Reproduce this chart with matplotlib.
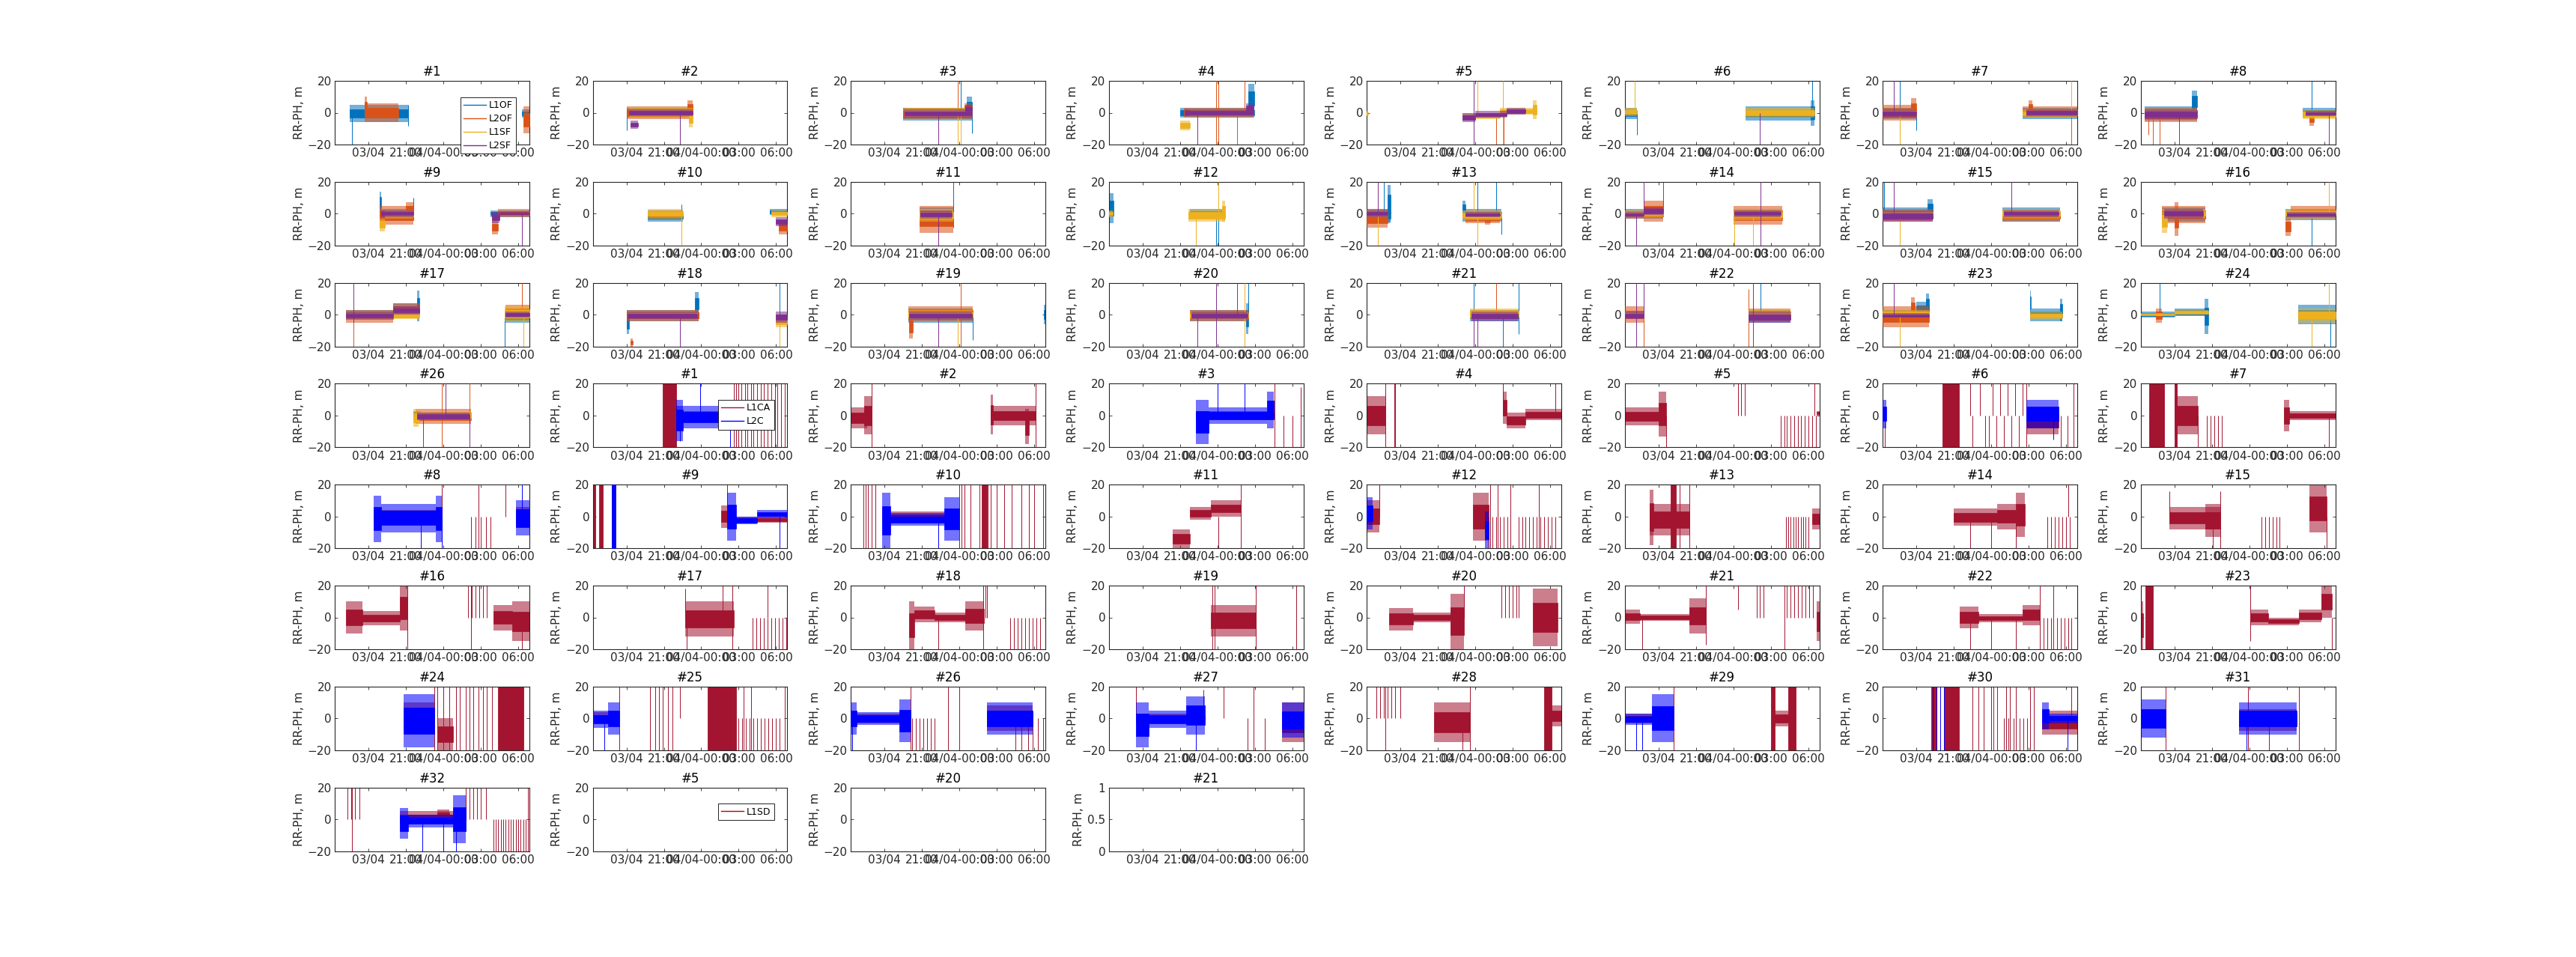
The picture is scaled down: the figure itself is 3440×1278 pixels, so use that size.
import matplotlib
matplotlib.use('Agg')
import matplotlib.pyplot as plt
from matplotlib.lines import Line2D

# panel titles, drawn row by row
gal_prns = list(range(1, 25)) + [26]
gps_prns = list(range(1, 33))
sd_prns = [5, 20]
empty_prns = [21]

gal_signals = ['L1OF', 'L2OF', 'L1SF', 'L2SF']
gps_signals = ['L1CA', 'L2C']
sd_signals = ['L1SD']

# hours since 03/04 00:00
tick_hours = [18, 21, 24, 27, 30]
tick_labels = ['03/04', '21:00', '04/04-00:00', '03:00', '06:00']

# noise bands: (prn, signal, t0, t1, low, high)
gal_bands = [
    (1, 0, 16.5, 21.2, -6, 5), (1, 1, 17.7, 20.4, -6, 6), (1, 1, 17.7, 17.9, -2, 10),
    (1, 0, 30.3, 30.9, -3, 2), (1, 1, 30.4, 30.9, -13, 4),
    (2, 0, 18.0, 23.3, -3, 3), (2, 1, 18.0, 23.3, -4, 4), (2, 1, 22.9, 23.3, -2, 8),
    (2, 2, 18.2, 23.3, -3, 3), (2, 2, 23.0, 23.3, -9, 2), (2, 3, 18.2, 23.3, -2, 2),
    (2, 3, 18.3, 18.9, -10, -5),
    (3, 0, 19.5, 25.0, -5, 3), (3, 0, 24.6, 25.0, -2, 10), (3, 1, 19.5, 25.0, -4, 3),
    (3, 1, 24.4, 25.0, 0, 6), (3, 2, 19.6, 25.0, -3, 3), (3, 3, 19.6, 25.0, -3, 2),
    (3, 3, 24.5, 25.0, 0, 5),
    (4, 0, 21.05, 26.95, -3, 3), (4, 0, 26.5, 26.95, 0, 18), (4, 1, 21.3, 26.9, -3, 3),
    (4, 2, 21.05, 21.8, -11, -5), (4, 2, 21.8, 26.9, -2, 2), (4, 3, 21.4, 26.9, -2, 2),
    (4, 3, 26.3, 26.9, 0, 6),
    (5, 3, 23.0, 24.0, -6, 0), (5, 3, 24.0, 26.5, -3, 1), (5, 3, 26.5, 28.0, -1, 3),
    (5, 2, 23.0, 26.0, -4, 0), (5, 2, 26.0, 28.9, -1, 3), (5, 2, 28.6, 28.9, -4, 8),
    (5, 2, 15.3, 15.4, -2, 1),
    (6, 0, 15.3, 16.3, -4, 3), (6, 2, 15.3, 16.3, -2, 3), (6, 0, 25.0, 30.5, -5, 4),
    (6, 2, 25.0, 30.5, -3, 3), (6, 0, 30.2, 30.5, -8, 8),
    (7, 1, 15.3, 18.0, -5, 5), (7, 1, 17.6, 18.0, -3, 9), (7, 0, 15.3, 18.0, -4, 3),
    (7, 2, 15.3, 18.0, -2, 2), (7, 3, 15.3, 18.0, -3, 2), (7, 0, 26.5, 30.9, -4, 3),
    (7, 1, 26.5, 30.9, -3, 4), (7, 1, 27.0, 27.3, -2, 8), (7, 2, 26.5, 30.9, -3, 2),
    (7, 3, 26.8, 30.9, -2, 2),
    (8, 0, 15.6, 19.8, -5, 4), (8, 0, 19.4, 19.8, 0, 14), (8, 1, 15.6, 19.8, -6, 3),
    (8, 2, 15.6, 19.8, -3, 2), (8, 3, 15.6, 19.8, -4, 2), (8, 0, 28.3, 30.9, -3, 3),
    (8, 2, 28.3, 30.9, -4, 2), (8, 1, 28.8, 29.2, -8, 1), (8, 3, 28.5, 30.9, -2, 1),
    (9, 0, 18.9, 21.6, -2, 3), (9, 0, 18.9, 19.0, 0, 14), (9, 1, 18.9, 21.6, -7, 5),
    (9, 1, 21.0, 21.6, -2, 7), (9, 2, 18.9, 19.3, -11, -3), (9, 2, 19.3, 21.6, -3, 2),
    (9, 3, 19.0, 21.6, -2, 2), (9, 0, 27.8, 30.9, -2, 2), (9, 1, 27.9, 28.4, -13, -4),
    (9, 1, 28.4, 30.9, -2, 3), (9, 3, 27.9, 28.5, -6, 1), (9, 3, 28.5, 30.9, -1, 1),
    (10, 0, 19.7, 22.5, -5, 2), (10, 2, 19.7, 22.5, -3, 3), (10, 1, 19.8, 22.4, -3, 2),
    (10, 0, 29.5, 30.9, -1, 3), (10, 2, 29.6, 30.9, -2, 2), (10, 3, 30.0, 30.9, -8, -2),
    (10, 1, 30.2, 30.9, -13, -4),
    (11, 0, 20.8, 23.5, -5, 4), (11, 1, 20.8, 23.5, -12, 5), (11, 2, 20.8, 23.5, -5, 3),
    (11, 3, 20.9, 23.4, -3, 2),
    (12, 0, 15.3, 15.7, -6, 13), (12, 2, 15.3, 15.6, -2, 2), (12, 2, 21.7, 24.6, -5, 3),
    (12, 0, 21.8, 24.5, -3, 3), (12, 2, 24.4, 24.6, -5, 8),
    (13, 0, 15.3, 17.2, -5, 3), (13, 0, 17.0, 17.2, -6, 18), (13, 1, 15.3, 17.0, -9, 3),
    (13, 2, 15.3, 17.0, -2, 2), (13, 3, 15.3, 17.0, -2, 2), (13, 0, 23.0, 26.1, -5, 3),
    (13, 0, 23.0, 23.2, 0, 8), (13, 2, 23.0, 26.1, -4, 2), (13, 1, 23.2, 26.0, -6, 2),
    (13, 1, 24.8, 25.2, -7, 0), (13, 3, 23.2, 26.0, -2, 1),
    (14, 0, 15.3, 18.4, -3, 3), (14, 1, 15.3, 16.8, -3, 2), (14, 1, 16.8, 18.4, -5, 8),
    (14, 3, 15.3, 16.8, -2, 1), (14, 3, 16.8, 18.4, -1, 4), (14, 2, 15.3, 18.4, -2, 2),
    (14, 1, 24.0, 27.9, -7, 5), (14, 0, 24.0, 27.9, -3, 3), (14, 2, 24.0, 27.9, -4, 3),
    (14, 3, 24.1, 27.8, -2, 2),
    (15, 0, 15.3, 19.3, -4, 4), (15, 0, 18.9, 19.3, -2, 9), (15, 1, 15.3, 19.3, -5, 3),
    (15, 3, 15.3, 19.3, -5, 2), (15, 2, 15.3, 19.3, -2, 2), (15, 0, 24.9, 29.5, -5, 4),
    (15, 1, 24.9, 29.5, -5, 3), (15, 2, 24.9, 29.5, -3, 3), (15, 3, 25.0, 29.4, -2, 2),
    (16, 0, 17.0, 20.5, -5, 4), (16, 1, 17.0, 20.5, -6, 5), (16, 1, 18.0, 18.3, -14, 7),
    (16, 2, 17.0, 17.4, -12, 3), (16, 2, 17.4, 20.5, -3, 3), (16, 3, 17.2, 20.3, -3, 3),
    (16, 1, 26.9, 27.3, -14, -2), (16, 1, 27.3, 30.9, -3, 5), (16, 0, 26.9, 30.9, -4, 3),
    (16, 2, 26.9, 30.9, -3, 3), (16, 3, 27.0, 30.9, -2, 1),
    (17, 0, 16.2, 20.0, -3, 3), (17, 0, 20.0, 22.1, -2, 7), (17, 0, 21.9, 22.1, -4, 15),
    (17, 1, 16.2, 20.0, -5, 3), (17, 1, 20.0, 22.1, -1, 7), (17, 3, 16.2, 20.0, -3, 2),
    (17, 3, 20.0, 22.1, 0, 5), (17, 2, 16.2, 22.1, -3, 2), (17, 0, 28.9, 30.9, -5, 2),
    (17, 2, 28.9, 30.9, -4, 5), (17, 1, 29.0, 30.9, -3, 6), (17, 3, 29.0, 30.9, -2, 2),
    (18, 0, 18.0, 23.8, -4, 3), (18, 0, 18.0, 18.2, -12, 0), (18, 0, 23.5, 23.8, 0, 14),
    (18, 1, 18.0, 23.8, -4, 3), (18, 3, 18.1, 23.7, -3, 2), (18, 2, 18.1, 23.7, -2, 2),
    (18, 1, 18.3, 18.5, -20, -15), (18, 3, 30.0, 30.9, -5, 2), (18, 2, 30.0, 30.9, -8, 0),
    (19, 0, 19.9, 25.1, -5, 4), (19, 1, 19.9, 25.1, -4, 5), (19, 1, 20.0, 20.3, -15, 0),
    (19, 2, 19.9, 25.1, -3, 3), (19, 3, 20.0, 25.0, -3, 2), (19, 0, 30.8, 30.9, -6, 6),
    (20, 0, 21.8, 26.5, -4, 3), (20, 1, 21.8, 26.5, -4, 3), (20, 3, 21.9, 26.4, -3, 2),
    (20, 2, 21.8, 26.5, -3, 2), (20, 0, 26.3, 26.5, -12, 7),
    (21, 0, 23.6, 27.5, -4, 3), (21, 2, 23.6, 27.5, -3, 4), (21, 1, 23.7, 27.4, -3, 3),
    (21, 3, 23.7, 27.4, -4, 2),
    (22, 3, 15.3, 16.8, -3, 2), (22, 1, 15.3, 16.8, -5, 5), (22, 2, 15.3, 16.8, -2, 2),
    (22, 3, 25.2, 28.6, -5, 2), (22, 2, 25.2, 28.6, -3, 3), (22, 1, 25.2, 28.6, -4, 4),
    (22, 0, 25.3, 28.6, -5, 3),
    (23, 1, 15.3, 19.0, -8, 5), (23, 1, 17.6, 17.9, -3, 11), (23, 0, 15.3, 18.0, -3, 3),
    (23, 0, 18.0, 19.0, -2, 8), (23, 0, 18.8, 19.0, 0, 13), (23, 2, 15.3, 19.0, -2, 3),
    (23, 3, 15.3, 19.0, -2, 1), (23, 0, 27.1, 29.7, -4, 4), (23, 0, 27.1, 27.2, 0, 15),
    (23, 2, 27.1, 29.7, -3, 2), (23, 0, 29.5, 29.7, -4, 10),
    (24, 0, 15.3, 18.0, -2, 2), (24, 0, 18.0, 20.7, -1, 4), (24, 0, 20.4, 20.7, -12, 10),
    (24, 2, 15.3, 18.0, -1, 1), (24, 2, 18.0, 20.7, 0, 3), (24, 1, 16.5, 17.0, -5, 4),
    (24, 0, 27.9, 30.9, -6, 6), (24, 2, 27.9, 30.9, -5, 4),
    (26, 0, 21.6, 22.2, -2, 3), (26, 2, 21.6, 22.0, -7, 4), (26, 2, 22.0, 26.2, -3, 3),
    (26, 1, 21.8, 26.2, -5, 4), (26, 3, 21.9, 26.1, -3, 2),
]

# single outliers: (prn, signal, y0, y1, [hours])
gal_spikes = [
    (1, 0, -20, 0, [16.7]), (1, 0, -8, 5, [21.2]),
    (2, 0, -11, 0, [18.0]), (2, 3, -20, 0, [22.3]),
    (3, 0, 0, 20, [24.1]), (3, 0, -13, 0, [25.0]), (3, 1, 0, 20, [23.9]),
    (3, 2, -20, 0, [23.9, 24.1]), (3, 3, -20, 0, [22.3]),
    (4, 1, -20, 20, [23.9, 24.1]), (4, 1, -20, 0, [25.6]), (4, 1, 0, 20, [26.2]),
    (4, 3, -20, 0, [22.4]),
    (5, 3, -20, 20, [23.9]), (5, 1, -20, 20, [23.9]), (5, 2, 0, 20, [24.2]),
    (5, 2, -20, 20, [26.2]), (5, 1, -20, 0, [25.7, 26.3]),
    (6, 0, -14, 0, [16.3]), (6, 2, 0, 20, [16.1]), (6, 0, 0, 20, [30.3]), (6, 3, -20, 0, [26.1]),
    (7, 3, 0, 20, [16.2]), (7, 0, -20, 20, [16.7]), (7, 2, -20, 0, [16.7]),
    (7, 0, -11, 0, [18.0]), (7, 2, 0, 20, [30.4]), (7, 1, -20, 0, [30.4]),
    (8, 1, -14, 0, [15.9]), (8, 1, -20, 0, [16.3, 16.8]), (8, 3, -20, 0, [18.4]),
    (8, 0, -5, 20, [29.0]), (8, 3, -20, 0, [30.4]),
    (9, 0, -3, 10, [21.6]), (9, 3, -20, 0, [30.3]),
    (10, 2, -20, 0, [22.4]), (10, 0, 0, 6, [22.4]),
    (11, 3, -20, 0, [22.3]), (11, 0, -9, 20, [23.5]),
    (12, 2, -20, 0, [22.3]), (12, 2, 0, 20, [24.1]), (12, 0, -20, 0, [23.9, 24.1]),
    (13, 3, 0, 20, [16.2]), (13, 0, 0, 20, [16.7]), (13, 2, -20, 0, [16.2]),
    (13, 2, 0, 20, [23.9]), (13, 2, -20, 0, [24.2]), (13, 0, 0, 20, [24.2, 25.7]),
    (13, 0, -13, 0, [26.1]),
    (14, 3, 0, 20, [16.8]), (14, 0, 0, 20, [18.4]), (14, 3, -20, 0, [16.2]),
    (14, 2, -20, 0, [24.1, 25.6]), (14, 3, -20, 20, [26.2]),
    (15, 0, 0, 20, [15.4]), (15, 3, 0, 20, [16.2]), (15, 2, -20, 0, [16.7]),
    (15, 3, 0, 20, [25.6]),
    (16, 2, 0, 20, [30.4]), (16, 0, -20, 0, [29.0]),
    (17, 3, -5, 20, [16.8]), (17, 1, -20, 0, [16.8]), (17, 1, 0, 20, [30.3]),
    (17, 0, -20, 0, [28.9]), (17, 2, -20, 0, [30.4]),
    (18, 3, -20, 0, [22.3]), (18, 0, 0, 20, [30.3]), (18, 2, -20, 0, [30.3]),
    (19, 3, -20, 0, [22.3]), (19, 1, -20, 20, [24.1]), (19, 2, -20, 0, [23.9]),
    (19, 0, -16, 0, [25.1]),
    (20, 3, -20, 0, [22.4]), (20, 3, -20, 20, [23.9]), (20, 3, 0, 20, [25.6]),
    (20, 2, -20, 20, [26.2]), (20, 0, 0, 20, [26.5]),
    (21, 3, -20, 0, [23.9, 24.2]), (21, 0, 0, 20, [23.9]), (21, 1, 0, 20, [25.7]),
    (21, 0, -20, 0, [26.2]), (21, 0, -12, 20, [27.5]),
    (22, 3, -20, 20, [16.2]), (22, 1, -20, 20, [16.8]), (22, 3, 0, 20, [16.8]),
    (22, 1, -20, 16, [25.2]), (22, 3, -20, 20, [25.6]), (22, 0, 0, 20, [26.2]),
    (23, 3, 0, 20, [16.2]), (23, 2, -20, 0, [16.7]),
    (24, 0, 0, 20, [16.8]), (24, 2, 0, 20, [30.4]), (24, 2, -20, 0, [29.0]),
    (24, 0, -20, 0, [30.5]),
    (26, 3, -20, 0, [22.4, 26.1]), (26, 1, -20, 20, [23.9]), (26, 3, 0, 20, [24.2]),
    (26, 1, 0, 20, [26.1]),
]

gps_bands = [
    (1, 0, 20.9, 22.0, -20, 20), (1, 0, 22.0, 26.9, -3, 3), (1, 1, 22.0, 26.9, -8, 6),
    (1, 1, 22.0, 22.5, -16, 10),
    (2, 0, 15.3, 16.6, -8, 5), (2, 0, 16.4, 17.0, -12, 12), (2, 0, 26.5, 30.1, -6, 6),
    (2, 0, 26.5, 26.7, -12, 13), (2, 0, 29.3, 29.6, -18, 4),
    (3, 0, 22.3, 28.5, -3, 3), (3, 1, 22.3, 23.3, -18, 10), (3, 1, 23.3, 28.0, -5, 5),
    (3, 1, 28.0, 28.5, -8, 15),
    (4, 0, 15.3, 16.8, -12, 12), (4, 0, 26.2, 26.5, -5, 15), (4, 0, 26.5, 28.0, -8, 2),
    (4, 0, 28.0, 30.9, -3, 4),
    (5, 0, 15.3, 18.0, -6, 5), (5, 0, 18.0, 18.6, -13, 15), (5, 0, 30.7, 30.9, 0, 3),
    (6, 1, 15.3, 15.6, -8, 10), (6, 0, 20.1, 21.4, -20, 20), (6, 0, 26.8, 29.4, -12, 5),
    (6, 1, 26.8, 29.4, -8, 10),
    (7, 0, 16.0, 17.2, -20, 20), (7, 0, 18.0, 19.9, -12, 12), (7, 0, 18.0, 18.2, -20, 20),
    (7, 0, 26.8, 27.2, -10, 10), (7, 0, 27.2, 30.9, -3, 3),
    (8, 0, 18.4, 23.9, -5, 4), (8, 1, 18.4, 19.0, -16, 13), (8, 1, 19.0, 23.4, -10, 8),
    (8, 1, 23.4, 23.9, -16, 13), (8, 0, 29.8, 30.9, -6, 6), (8, 1, 29.8, 30.9, -12, 10),
    (9, 0, 15.3, 15.5, -20, 20), (9, 0, 15.8, 16.1, -20, 20), (9, 1, 16.8, 17.1, -20, 20),
    (9, 0, 25.6, 26.3, -7, 7), (9, 0, 26.3, 30.9, -4, 0), (9, 1, 26.1, 26.8, -15, 15),
    (9, 1, 26.8, 28.5, -5, 0), (9, 1, 28.5, 30.9, -1, 4),
    (10, 0, 17.8, 24.0, -4, 3), (10, 1, 17.8, 18.5, -20, 15), (10, 1, 18.5, 22.8, -6, 2),
    (10, 1, 22.8, 24.0, -15, 12), (10, 0, 25.8, 26.2, -20, 20),
    (11, 0, 20.4, 21.8, -20, -8), (11, 0, 21.8, 23.5, -2, 6), (11, 0, 23.5, 25.9, 0, 10),
    (12, 0, 15.3, 16.3, -10, 10), (12, 1, 15.3, 15.8, -8, 12), (12, 0, 23.8, 25.1, -15, 15),
    (12, 1, 24.8, 25.1, -20, 3),
    (13, 0, 17.3, 20.5, -12, 8), (13, 0, 17.3, 17.6, -18, 17), (13, 0, 19.0, 19.4, -20, 20),
    (13, 0, 30.3, 30.9, -8, 5),
    (14, 0, 21.0, 24.5, -6, 5), (14, 0, 24.5, 26.0, -8, 8), (14, 0, 26.0, 26.7, -13, 15),
    (15, 0, 17.6, 21.7, -8, 6), (15, 0, 20.5, 21.7, -13, 8), (15, 0, 28.8, 30.2, -10, 20),
    (16, 0, 16.2, 17.5, -10, 10), (16, 0, 17.5, 20.5, -5, 4), (16, 0, 20.5, 21.1, -8, 20),
    (16, 0, 28.0, 29.5, -8, 8), (16, 0, 29.5, 30.9, -15, 10),
    (17, 0, 22.7, 26.6, -12, 10),
    (18, 0, 20.0, 20.4, -20, 10), (18, 0, 20.4, 22.0, -3, 7), (18, 0, 22.0, 24.5, -3, 3),
    (18, 0, 24.5, 26.0, -8, 10),
    (19, 0, 23.5, 27.1, -12, 8),
    (20, 0, 17.1, 19.0, -8, 6), (20, 0, 19.0, 22.0, -3, 3), (20, 0, 22.0, 23.1, -20, 15),
    (20, 0, 28.6, 30.6, -18, 18),
    (21, 0, 15.3, 16.5, -4, 5), (21, 0, 16.5, 20.5, -2, 2), (21, 0, 20.5, 21.8, -10, 12),
    (21, 0, 30.7, 30.9, -15, 10),
    (22, 0, 21.5, 23.0, -7, 7), (22, 0, 23.0, 26.5, -3, 2), (22, 0, 26.5, 27.9, -5, 8),
    (23, 0, 15.3, 15.5, -20, 10), (23, 0, 15.7, 16.3, -20, 20), (23, 0, 24.1, 25.5, -5, 5),
    (23, 0, 25.5, 28.0, -5, 0), (23, 0, 28.0, 29.8, -3, 5), (23, 0, 29.8, 30.6, 0, 20),
    (24, 0, 20.8, 23.3, -10, 10), (24, 1, 20.8, 23.3, -18, 15), (24, 0, 23.5, 24.8, -20, 0),
    (24, 0, 28.4, 30.4, -20, 20),
    (25, 0, 15.3, 17.4, -3, 4), (25, 1, 15.3, 16.5, -6, 5), (25, 1, 16.5, 17.4, -10, 10),
    (25, 0, 24.5, 26.8, -20, 20),
    (26, 0, 15.3, 20.1, -3, 3), (26, 1, 15.3, 15.8, -10, 10), (26, 1, 15.8, 19.2, -4, 4),
    (26, 1, 19.2, 20.1, -15, 12), (26, 0, 26.2, 29.9, -8, 8), (26, 1, 26.2, 29.9, -10, 10),
    (27, 0, 17.5, 23.0, -3, 3), (27, 1, 17.5, 18.5, -18, 10), (27, 1, 18.5, 21.5, -6, 5),
    (27, 1, 21.5, 23.0, -10, 14), (27, 0, 29.2, 30.9, -15, 10), (27, 1, 29.2, 30.9, -12, 10),
    (28, 0, 20.7, 23.6, -15, 10), (28, 0, 29.5, 30.1, -20, 20), (28, 0, 30.1, 30.9, -5, 8),
    (29, 0, 15.3, 19.2, -3, 3), (29, 1, 15.3, 17.5, -4, 3), (29, 1, 17.5, 19.2, -15, 15),
    (29, 0, 27.0, 27.3, -20, 20), (29, 0, 27.3, 28.4, -5, 5), (29, 0, 28.4, 29.0, -20, 20),
    (30, 0, 19.2, 19.6, -20, 20), (30, 0, 20.2, 21.4, -20, 20), (30, 0, 28.1, 30.9, -10, 5),
    (30, 1, 28.1, 28.6, -7, 10), (30, 1, 28.6, 30.9, -3, 3),
    (31, 0, 15.3, 17.3, -5, 5), (31, 1, 15.3, 17.3, -12, 12), (31, 0, 23.2, 27.8, -8, 6),
    (31, 1, 23.2, 27.8, -10, 10),
    (32, 0, 20.5, 25.8, -3, 5), (32, 0, 23.5, 24.5, 0, 6), (32, 1, 20.5, 21.2, -12, 7),
    (32, 1, 21.2, 24.8, -5, 3), (32, 1, 24.8, 25.8, -15, 15),
]

gps_spikes = [
    (1, 0, -20, 20, [26.6, 26.8, 27.0, 27.2, 27.5, 27.7, 28.0, 28.2, 28.5, 28.8, 29.0,
                     29.3, 29.6, 29.9, 30.1, 30.4, 30.7]),
    (1, 1, 0, 20, [23.9]), (1, 1, -20, 0, [26.3]), (1, 1, -16, 0, [22.3]),
    (2, 0, -20, 20, [17.0, 30.1]),
    (3, 1, 0, 20, [24.0, 26.2]), (3, 0, -20, 20, [28.6]), (3, 0, -20, 0, [29.3, 30.0]),
    (3, 0, -20, 18, [30.7]),
    (4, 0, -20, 20, [16.8, 17.5, 17.6]), (4, 0, 0, 20, [26.2, 30.4]),
    (5, 0, -20, 0, [18.6, 27.8, 28.1, 28.3, 28.6, 28.9, 29.2, 29.4, 29.7, 30.0, 30.3, 30.6]),
    (5, 0, 0, 20, [24.4, 24.6, 24.9, 30.5]),
    (6, 0, -20, 0, [15.5, 22.5, 23.5, 23.8, 24.4, 25.0, 25.6, 26.2, 29.6, 30.1]),
    (6, 0, 0, 20, [22.3, 23.1, 24.1, 24.7, 25.3, 25.9, 26.5]),
    (6, 0, -20, 20, [26.8, 30.6]), (6, 1, -15, 0, [29.0]),
    (7, 0, -20, 20, [18.1]), (7, 0, -20, 0, [19.9, 20.6, 20.9, 21.2, 21.5, 21.8, 30.4]),
    (8, 0, -20, 20, [23.9, 26.8]), (8, 1, -20, 0, [22.2, 23.9]),
    (8, 0, -20, 0, [26.2, 26.6, 27.0, 27.4, 27.8]), (8, 0, 0, 20, [29.0]),
    (8, 1, 0, 20, [30.3]),
    (9, 0, -20, 20, [16.8]), (9, 0, 0, 20, [26.1]), (9, 1, -20, 0, [30.3]),
    (10, 0, -20, 20, [16.3, 16.5, 16.7, 17.0, 17.3, 24.0, 24.2, 24.4, 24.9, 25.6, 26.3,
                      26.5, 27.0, 27.6, 28.2, 29.0, 29.6, 30.0, 30.7]),
    (10, 1, -20, 0, [22.3]),
    (11, 0, -20, 0, [24.1]), (11, 0, -20, 20, [25.9]),
    (12, 0, 0, 20, [16.3]),
    (12, 0, -20, 0, [25.1, 25.4, 25.7, 26.0, 26.3, 26.6, 27.5, 27.8, 28.0, 28.3, 28.6,
                     28.9, 29.2, 29.5, 29.8, 30.1, 30.4]),
    (12, 0, -20, 20, [25.2, 25.8, 26.8, 29.1]),
    (13, 0, -20, 20, [19.7, 20.5]),
    (13, 0, -20, 0, [28.2, 28.4, 28.6, 28.8, 29.0, 29.2, 29.4, 29.6, 29.8, 30.0]),
    (14, 0, -20, 0, [22.3, 24.0, 26.0, 28.5, 28.8, 29.1, 29.4, 29.7, 30.0, 30.3]),
    (14, 0, 0, 20, [30.2]),
    (15, 0, 0, 16, [17.6]), (15, 0, -20, 0, [21.1, 25.0, 25.3, 25.6, 25.9, 26.2, 26.4, 30.2]),
    (15, 0, -20, 16, [21.7]),
    (16, 0, -20, 20, [21.1, 26.2]), (16, 0, 0, 20, [26.0, 26.3, 26.6, 26.9, 27.2, 27.5]),
    (16, 0, -20, 0, [30.3]),
    (17, 0, 0, 18, [22.7]), (17, 0, -20, 0, [22.8]), (17, 0, 0, 20, [25.7, 29.3]),
    (17, 0, -20, 20, [26.5]),
    (17, 0, -20, 0, [28.1, 28.4, 28.7, 29.0, 29.3, 29.6, 29.9, 30.2, 30.5, 30.8]),
    (18, 0, -20, 0, [22.3, 28.1, 28.4, 28.7, 29.0, 29.3, 29.6, 29.9, 30.2, 30.5]),
    (18, 0, -20, 20, [25.9]), (18, 0, 0, 20, [26.1, 26.2]),
    (19, 0, -20, 20, [23.6, 23.8, 27.1, 30.3]),
    (20, 0, 0, 20, [23.1, 26.1, 26.4, 26.7, 27.0, 27.3, 27.5]),
    (21, 0, -17, 20, [21.8]), (21, 0, -20, 0, [16.7]), (21, 0, 5, 20, [24.4]),
    (21, 0, 0, 20, [25.9, 26.1, 26.4, 28.3, 28.6, 28.9, 29.2, 29.5, 29.8, 30.1, 30.4]),
    (21, 0, -20, 20, [28.1]),
    (22, 0, -20, 0, [22.3, 24.0, 26.0, 28.2, 28.5, 28.8, 29.3, 29.6, 29.9, 30.2, 30.4]),
    (22, 0, -20, 20, [27.9, 29.0]),
    (23, 0, -15, 20, [24.1]), (23, 0, -20, 0, [30.6]),
    (24, 0, -20, 20, [23.3, 23.5, 24.0, 24.5, 25.0, 25.3, 25.8, 26.1, 26.4, 26.8, 27.2,
                      27.5, 27.9]),
    (25, 1, -20, 0, [16.2]), (25, 0, -20, 20, [17.4, 19.9, 20.3, 20.6, 20.9, 21.3, 21.7,
                                              27.4, 28.0, 30.7]),
    (25, 0, 0, 20, [22.3]),
    (25, 0, -20, 0, [27.0, 27.3, 27.6, 27.9, 28.2, 28.5, 28.8, 29.1, 29.4, 29.7, 30.0, 30.3]),
    (26, 1, -20, 0, [15.4]), (26, 0, -20, 20, [20.1, 23.1, 24.0]),
    (26, 0, -20, 0, [20.2, 20.5, 20.8, 21.1, 21.4, 21.7, 22.0, 28.5, 29.0, 29.5, 29.9,
                     30.3, 30.7]),
    (27, 0, 0, 20, [17.5, 24.5]), (27, 0, 0, 18, [22.9]), (27, 1, -20, 0, [22.3]),
    (27, 0, -20, 0, [26.4, 27.8]), (27, 0, -20, 20, [26.9]),
    (28, 0, 0, 20, [16.1, 16.4, 16.7, 17.0, 17.3, 17.6, 18.0]),
    (28, 0, -20, 20, [16.8, 23.6]), (28, 0, -20, 0, [23.0]),
    (29, 1, -20, 0, [16.2, 16.7]), (29, 0, -20, 20, [19.2]),
    (30, 1, -20, 20, [19.3, 19.6, 19.9, 20.2]),
    (30, 0, -20, 20, [22.5, 23.0, 23.4, 24.0, 24.2, 24.5, 25.2, 25.5, 26.0, 27.1, 27.4]),
    (30, 0, -20, 0, [25.0, 25.4, 25.8, 26.3, 26.6, 26.9]),
    (30, 0, 0, 20, [30.4]), (30, 1, -20, 0, [30.1]),
    (31, 0, -20, 20, [17.3, 23.9, 28.0]), (31, 1, -20, 0, [23.8]), (31, 0, -20, 0, [25.6]),
    (32, 0, 0, 20, [16.3, 16.6, 16.9, 17.3, 25.8, 26.1, 26.4, 26.7, 27.0, 27.4]),
    (32, 0, -20, 20, [16.7, 30.8]), (32, 1, -20, 0, [22.3, 24.0, 25.0]),
    (32, 0, -20, 0, [28.0, 28.2, 28.4, 28.6, 28.8, 29.0, 29.2, 29.4, 29.6, 29.8, 30.0,
                     30.2, 30.4, 30.6]),
]

gal_colors = ['#0072BD', '#D95319', '#EDB120', '#7E2F8E']
gps_colors = ['#A2142F', '#0000FF']
sd_colors = ['#C00000']
txt = '#262626'

plt.rcParams['font.family'] = ['DejaVu Sans']

panels = ([('gal', p) for p in gal_prns] + [('gps', p) for p in gps_prns]
          + [('sd', p) for p in sd_prns] + [('none', p) for p in empty_prns])

fig = plt.figure(figsize=(34.4, 12.78), dpi=100)
W, H = 3440.0, 1278.0
first = set()


def draw_band(ax, t0, t1, lo, hi, col, z):
    # dense noise: faint outer envelope, solid core
    if hi - lo >= 40:
        ax.fill_between([t0, t1], lo, hi, color=col, lw=0.6, zorder=z)
        return
    ax.fill_between([t0, t1], lo, hi, color=col, alpha=0.55, lw=0, zorder=z)
    q = 0.25 * (hi - lo)
    ax.fill_between([t0, t1], lo + q, hi - q, color=col, lw=0.5, zorder=z)


for i, (sysname, prn) in enumerate(panels):
    r, c = divmod(i, 8)
    ax = fig.add_axes([(447 + 344.5 * c) / W, 1 - (108 + 134.8 * r + 85) / H,
                       260 / W, 85 / H])
    if sysname == 'gal':
        bands, spikes, colors, names = gal_bands, gal_spikes, gal_colors, gal_signals
    elif sysname == 'gps':
        bands, spikes, colors, names = gps_bands, gps_spikes, gps_colors, gps_signals
    elif sysname == 'sd':
        bands, spikes, colors, names = [], [], sd_colors, sd_signals
    else:
        bands, spikes, colors, names = [], [], [], []

    for sig in range(len(colors)):
        for (p, s, t0, t1, lo, hi) in bands:
            if p == prn and s == sig:
                draw_band(ax, t0, t1, lo, hi, colors[s], 2 + s)
    for (p, s, y0, y1, times) in spikes:
        if p == prn:
            ax.vlines(times, y0, y1, color=colors[s], lw=0.7, zorder=2 + s)

    ax.set_xlim(15.3, 30.9)
    if sysname == 'none':
        ax.set_ylim(0, 1)
        ax.set_yticks([0, 0.5, 1])
        ax.set_yticklabels(['0', '0.5', '1'])
    else:
        ax.set_ylim(-20, 20)
        ax.set_yticks([-20, 0, 20])
    ax.set_xticks(tick_hours)
    ax.set_xticklabels(tick_labels)
    ax.tick_params(direction='in', top=True, right=True, length=3, width=0.6,
                   labelsize=11, colors=txt, pad=3)
    for sp in ax.spines.values():
        sp.set_linewidth(0.8)
        sp.set_color(txt)
    ax.set_title('#%d' % prn, fontsize=12, color='black', pad=5)
    ax.set_ylabel('RR-PH, m', fontsize=11, color=txt, labelpad=3)

    if sysname in ('gal', 'gps', 'sd') and sysname not in first:
        first.add(sysname)
        handles = [Line2D([], [], color=colors[k], lw=1.0) for k in range(len(names))]
        leg = ax.legend(handles, names, loc='upper right', bbox_to_anchor=(0.955, 0.82),
                        fontsize=9, handlelength=2.4, handletextpad=0.3,
                        labelspacing=0.4, borderpad=0.35, fancybox=False,
                        framealpha=1, edgecolor='black')
        leg.get_frame().set_linewidth(0.6)
        leg.set_zorder(20)

fig.savefig('out.png', dpi=100)
